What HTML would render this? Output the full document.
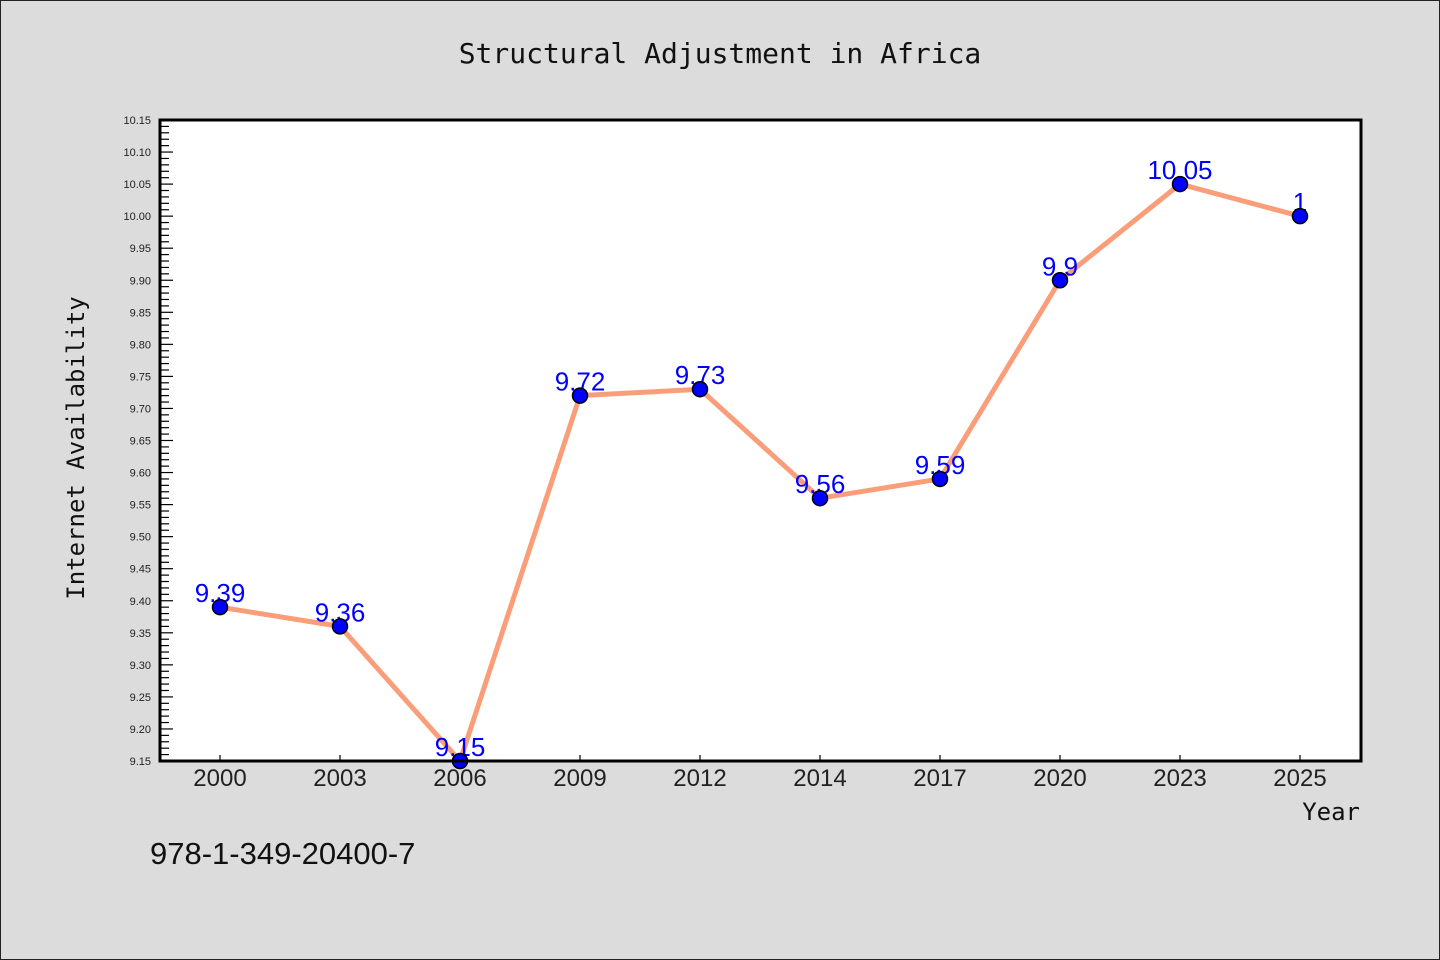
<!DOCTYPE html>
<html><head><meta charset="utf-8"><style>
html,body{margin:0;padding:0;background:#dcdcdc;}
svg{display:block;}
</style></head><body>
<svg id="chart" width="1440" height="960" xmlns="http://www.w3.org/2000/svg">
<rect x="0.5" y="0.5" width="1439" height="959" fill="#dcdcdc" stroke="#222" stroke-width="1"/>
<text x="720" y="63" text-anchor="middle" font-family="'WenQuanYi Zen Hei Mono','DejaVu Sans Mono','Liberation Mono',monospace" font-size="28" fill="#111">Structural Adjustment in Africa</text>
<rect x="160" y="120" width="1201" height="641" fill="#fff"/>
<g id="yticks"></g>
<g id="xticks"></g>
<g id="series"></g>
<rect x="160" y="120" width="1201" height="641" fill="none" stroke="#000" stroke-width="3"/>
<text transform="translate(84,448) rotate(-90)" text-anchor="middle" font-family="'WenQuanYi Zen Hei Mono','DejaVu Sans Mono','Liberation Mono',monospace" font-size="24" fill="#111">Internet Availability</text>
<text x="1360" y="820" text-anchor="end" font-family="'WenQuanYi Zen Hei Mono','DejaVu Sans Mono','Liberation Mono',monospace" font-size="24" fill="#111">Year</text>
<text x="150" y="864" font-family="'Liberation Sans',sans-serif" font-size="31" fill="#111">978-1-349-20400-7</text>
</svg>
<script>
const categories = ["2000","2003","2006","2009","2012","2014","2017","2020","2023","2025"];
const values = [9.39,9.36,9.15,9.72,9.73,9.56,9.59,9.9,10.05,10.0];
const valueLabels = ["9.39","9.36","9.15","9.72","9.73","9.56","9.59","9.9","10.05","1"];
const yTicks = ["9.15","9.20","9.25","9.30","9.35","9.40","9.45","9.50","9.55","9.60","9.65","9.70","9.75","9.80","9.85","9.90","9.95","10.00","10.05","10.10","10.15"];
const yMin = 9.15, yMax = 10.15;
const NS = "http://www.w3.org/2000/svg";
const L = 160, R = 1361, T = 120, B = 761;
function yScale(v){ return B - (v - yMin) / (yMax - yMin) * (B - T); }
function xScale(i){ return 220 + i * 120; }
function mk(tag, attrs, parent){ const e = document.createElementNS(NS, tag); for (const k in attrs) e.setAttribute(k, attrs[k]); parent.appendChild(e); return e; }
const yg = document.getElementById('yticks');
for (let i = 0; i <= 100; i++) {
  const v = yMin + i * 0.01;
  const y = yScale(v);
  const major = i % 5 === 0;
  const t = mk('line', {x1: L, x2: L + (major ? 13 : 9), y1: y, y2: y, stroke: '#000', 'stroke-width': 1.2}, yg);
  
  
}
yTicks.forEach(s => {
  const y = yScale(parseFloat(s));
  const t = mk('text', {x: 151, y: y + 4, 'text-anchor': 'end', 'font-family': "'Liberation Sans',sans-serif", 'font-size': 11, fill: '#222'}, yg);
  t.textContent = s;
  
  
});
const xg = document.getElementById('xticks');
categories.forEach((c, i) => {
  const x = xScale(i);
  const l = mk('line', {x1: x, x2: x, y1: B, y2: B - 6, stroke: '#000', 'stroke-width': 1.2}, xg);
  
  
  const t = mk('text', {x: x, y: B + 25, 'text-anchor': 'middle', 'font-family': "'Liberation Sans',sans-serif", 'font-size': 24, fill: '#222'}, xg);
  t.textContent = c;
  
  
});
const sg = document.getElementById('series');
const pts = values.map((v, i) => xScale(i) + ',' + yScale(v)).join(' ');
const line = mk('polyline', {points: pts, fill: 'none', stroke: '#fa9e7a', 'stroke-width': 5, 'stroke-linejoin': 'round'}, sg);


values.forEach((v, i) => {
  const t = mk('text', {x: xScale(i), y: yScale(v) - 5, 'text-anchor': 'middle', 'font-family': "'Liberation Sans',sans-serif", 'font-size': 26, fill: '#0000ff'}, sg);
  t.textContent = valueLabels[i];
  
  
});
values.forEach((v, i) => {
  const c = mk('circle', {cx: xScale(i), cy: yScale(v), r: 7.5, fill: '#0000ff', stroke: '#000', 'stroke-width': 1.5}, sg);
  
  
});
</script>
</body></html>
